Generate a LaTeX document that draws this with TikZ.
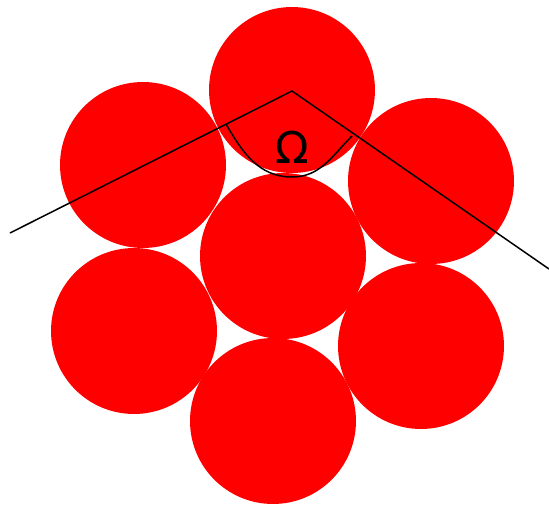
\documentclass[tikz,border=0pt]{standalone}
\usepackage{fontspec}
\setmainfont{DejaVu Sans}
\usetikzlibrary{positioning}

\begin{document}
\begin{tikzpicture}[x=0.02cm, y=-0.02cm,
		ball/.style={circle, fill=red, minimum size=3.32cm, inner sep=0pt},
		edge/.style={line width=0.85pt, black}]
			\useasboundingbox (0,0) rectangle (549,507);
			
			\node[ball] (top) at (292,90) {};
			\node[ball] (ul) at (143,165) {};
			\node[ball] (ur) at (431,181) {};
			\node[ball] (mid) at (283,256) {};
			\node[ball] (ll) at (134,331) {};
			\node[ball] (lr) at (421,346) {};
			\node[ball] (bot) at (273,421) {};
			
			\coordinate (l) at (10,233);
			\coordinate (o) at (292,91);
			\coordinate (r) at (549,269);
			\coordinate (al) at (226,124);
			\coordinate (ab) at (292,177);
			\coordinate (ar) at (352,136);
			
			\draw[edge] (l) -- (o) -- (r);
			\draw[edge] (al) to [out=-60, in=180] (ab) to [out=0, in=-135] (ar);
			
			\node[font=\fontsize{25}{30}\selectfont, inner sep=0pt] (omega) at (292,147) {Ω};
		\end{tikzpicture}
\end{document}
